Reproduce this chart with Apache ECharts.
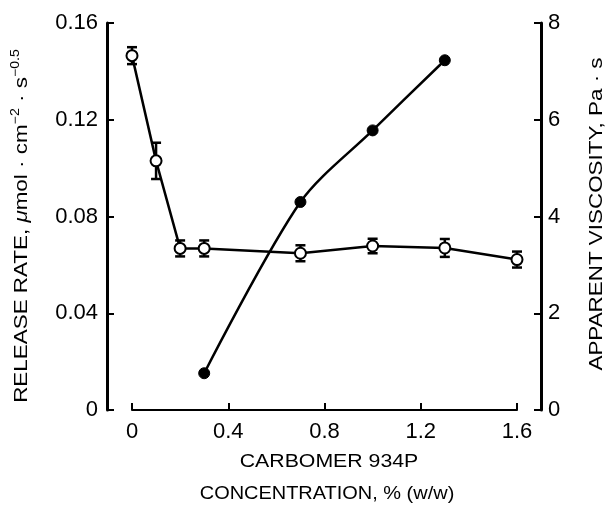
<!DOCTYPE html>
<html><head><meta charset="utf-8">
<script src="https://cdn.jsdelivr.net/npm/echarts@6/dist/echarts.min.js"></script>
<style>html,body{margin:0;padding:0;background:#fff}#c{width:606px;height:507px}</style>
</head><body><div id="c"></div>
<script>
var releaseConc = [0, 0.1, 0.2, 0.3, 0.7, 1.0, 1.3, 1.6];
var releaseRate = [0.1465, 0.103, 0.0668, 0.0668, 0.0648, 0.0678, 0.0670, 0.0622];
var releaseErr  = [0.0035, 0.0075, 0.0033, 0.0033, 0.0033, 0.0030, 0.0037, 0.0033];
var viscConc = [0.3, 0.7, 1.0, 1.3];
var viscosity = [0.76, 4.3, 5.78, 7.23];
var xTicks = [0, 0.4, 0.8, 1.2, 1.6];
var leftTicks = [0, 0.04, 0.08, 0.12, 0.16];
var rightTicks = [0, 2, 4, 6, 8];

var FONT = '"Liberation Sans", Arial, sans-serif';
var chart = echarts.init(document.getElementById('c'), null, {renderer: 'canvas'});
var relData = releaseConc.map(function (x, i) { return [x, releaseRate[i]]; });
var errData = releaseConc.map(function (x, i) { return [x, releaseRate[i] - releaseErr[i], releaseRate[i] + releaseErr[i]]; });
var visData = viscConc.map(function (x, i) { return [x, viscosity[i]]; });

function nameText(x, y, rot, sx, text, rich) {
  return {type: 'text', x: x, y: y, rotation: rot, scaleX: sx, silent: true,
    style: {text: text, font: '19px ' + FONT, fill: '#000', align: 'center', verticalAlign: 'middle', rich: rich || {}}};
}
var supRich = {
  i: {fontStyle: 'italic', fontSize: 19, fontFamily: FONT, fill: '#000'},
  sup: {fontSize: 12, fontFamily: FONT, fill: '#000', verticalAlign: 'bottom', padding: [0, 0, 12, 0]}
};

chart.setOption({
  animation: false,
  grid: {left: 132, right: 89, top: 23, bottom: 97},
  graphic: [
    nameText(22, 226, Math.PI / 2, 1.18, 'RELEASE RATE, {i|μ}mol · cm{sup|−2} · s{sup|−0.5}', supRich),
    nameText(597, 214, Math.PI / 2, 1.18, 'APPARENT VISCOSITY, Pa · s'),
    nameText(329, 462, 0, 1.12, 'CARBOMER 934P'),
    nameText(327, 494, 0, 1.05, 'CONCENTRATION, % (w/w)')
  ],
  xAxis: {
    type: 'value', min: 0, max: 1.6, interval: 0.4,
    axisLine: {lineStyle: {color: '#000', width: 2}},
    axisTick: {inside: true, length: 7, lineStyle: {color: '#000', width: 2}},
    axisLabel: {color: '#000', fontSize: 22, fontFamily: FONT, margin: 11,
      formatter: function (v) { return v === 0 ? '0' : v.toFixed(1); }},
    splitLine: {show: false}
  },
  yAxis: [{
    type: 'value', min: 0, max: 0.16, interval: 0.04, position: 'left', offset: 25,
    axisLine: {show: true, onZero: false, lineStyle: {color: '#000', width: 3}},
    axisTick: {show: true, inside: true, length: 7, lineStyle: {color: '#000', width: 2}},
    axisLabel: {color: '#000', fontSize: 22, fontFamily: FONT, margin: 9,
      formatter: function (v) { return v === 0 ? '0' : v.toFixed(2); }},
    splitLine: {show: false}
  }, {
    type: 'value', min: 0, max: 8, interval: 2, position: 'right', offset: 24,
    axisLine: {show: true, onZero: false, lineStyle: {color: '#000', width: 3}},
    axisTick: {show: true, inside: true, length: 7, lineStyle: {color: '#000', width: 2}},
    axisLabel: {color: '#000', fontSize: 22, fontFamily: FONT, margin: 7},
    splitLine: {show: false}
  }],
  series: [{
    type: 'custom', yAxisIndex: 0, z: 2, clip: false,
    data: errData,
    renderItem: function (params, api) {
      var lo = api.coord([api.value(0), api.value(1)]);
      var hi = api.coord([api.value(0), api.value(2)]);
      var w = 5;
      var st = {stroke: '#000', lineWidth: 2.5};
      return {type: 'group', children: [
        {type: 'line', shape: {x1: lo[0], y1: lo[1], x2: hi[0], y2: hi[1]}, style: st},
        {type: 'line', shape: {x1: lo[0] - w, y1: lo[1], x2: lo[0] + w, y2: lo[1]}, style: st},
        {type: 'line', shape: {x1: hi[0] - w, y1: hi[1], x2: hi[0] + w, y2: hi[1]}, style: st}
      ]};
    }
  }, {
    type: 'line', yAxisIndex: 0, z: 3, data: relData, clip: false,
    symbol: 'circle', symbolSize: 11,
    lineStyle: {color: '#000', width: 2.5},
    itemStyle: {color: '#fff', borderColor: '#000', borderWidth: 2}
  }, {
    type: 'line', yAxisIndex: 1, z: 4, data: visData, smooth: 0.3, clip: false,
    symbol: 'circle', symbolSize: 11,
    lineStyle: {color: '#000', width: 2.5},
    itemStyle: {color: '#000', borderColor: '#000', borderWidth: 1}
  }]
});
</script></body></html>
